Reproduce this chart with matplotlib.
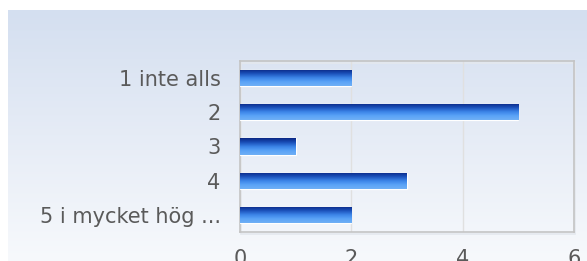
import matplotlib.pyplot as plt
import numpy as np
from matplotlib.colors import LinearSegmentedColormap
from matplotlib.patches import Rectangle

# data
categories = ["1 inte alls", "2", "3", "4", "5 i mycket hög ..."]
counts = [2, 5, 1, 3, 2]
x_ticks = [0, 2, 4, 6]

W, H = 587, 261
fig = plt.figure(figsize=(W / 100, H / 100), dpi=100)

# background gradient panel
bg_cmap = LinearSegmentedColormap.from_list("bg", ["#d4dff0", "#e6ecf6", "#f7f9fc"])
bg = fig.add_axes([8 / W, 0, 1 - 8 / W, 251 / H])
bg.imshow(np.linspace(0, 1, 256).reshape(-1, 1), aspect="auto", cmap=bg_cmap,
          extent=[0, 1, 0, 1])
bg.axis("off")

ax = fig.add_axes([240 / W, 29 / H, 334 / W, 171 / H])
ax.set_facecolor("none")

bar_cmap = LinearSegmentedColormap.from_list(
    "bar", ["#0a2784", "#1a4fb8", "#3a82e6", "#5aa3f7", "#6fb0f5"])
grad = np.linspace(0, 1, 64).reshape(-1, 1)

y = np.arange(len(categories))
bars = ax.barh(y, counts, height=0.47, color="#2a6fd8", edgecolor="white",
               linewidth=0.9, zorder=3)
for b in bars:
    x0, y0 = b.get_x(), b.get_y()
    x1, y1 = x0 + b.get_width(), y0 + b.get_height()
    im = ax.imshow(grad, aspect="auto", cmap=bar_cmap, extent=[x0, x1, y1, y0],
                   zorder=3.5)
    im.set_clip_path(b)

ax.set_xlim(x_ticks[0], x_ticks[-1])
ax.set_ylim(len(categories) - 0.5, -0.5)
ax.set_xticks(x_ticks)
ax.set_yticks(y)
ax.set_yticklabels(categories)

ax.set_axisbelow(True)
ax.xaxis.grid(True, color="#e0e0e0", linewidth=1)
for s in ax.spines.values():
    s.set_color("#c4c4c4")
    s.set_linewidth(1.2)

# soft shadow on right/bottom of frame
ax.add_patch(Rectangle((0.004, -0.012), 1.0, 1.0, transform=ax.transAxes,
                       fill=False, edgecolor="#e4e8ee", linewidth=1.2,
                       zorder=0, clip_on=False))

ax.tick_params(length=0, labelsize=15, labelcolor="#5a5a5a")
ax.tick_params(axis="y", pad=14)
ax.tick_params(axis="x", pad=12)

fig.savefig("out.png", dpi=100)
